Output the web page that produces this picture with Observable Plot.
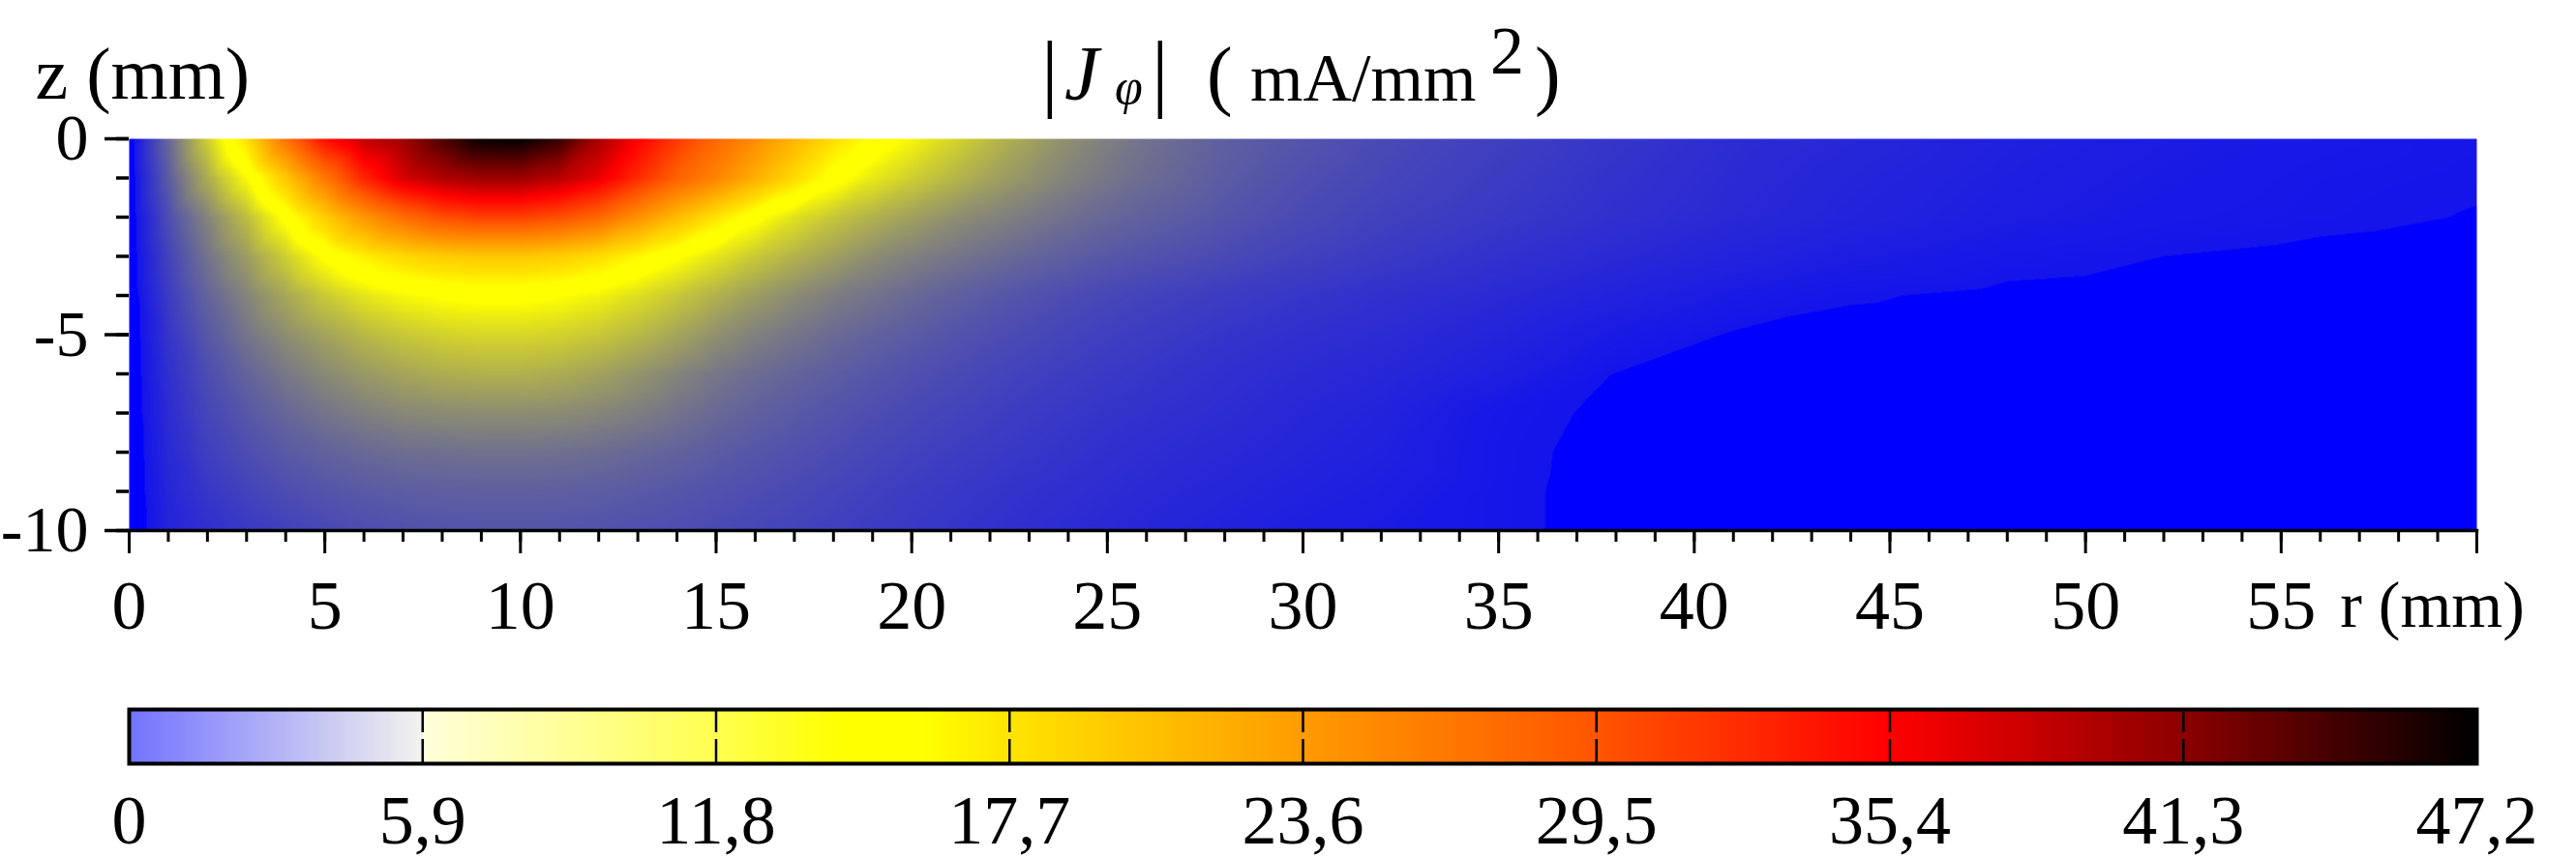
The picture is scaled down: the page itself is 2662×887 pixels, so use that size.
<!DOCTYPE html>
<html>
<head>
<meta charset="utf-8">
<script src="https://cdn.jsdelivr.net/npm/d3@7"></script>
<script src="https://cdn.jsdelivr.net/npm/@observablehq/plot@0.6"></script>
<style>
html, body { margin: 0; padding: 0; background: #fff; overflow: hidden; }
#chart svg { display: block; }
</style>
</head>
<body>
<div id="chart"></div>
<script>
// ---- field samples |J_phi| (mA/mm^2) ----
const rGrid = [0,1,2,3,4,5,6,7,8,9,10,11,12,13,14,15,16,17,18,19,20,21,22,23,24,25,26,28,30,32,35,38,41,44,48,52,56,60];
const zLevels = [0,-1,-2,-3,-4,-5,-6,-7,-8,-9,-10];

const J_z0  = [0,5.5,11.5,18,27,34.5,38.5,40.5,44,46.8,47.1,45,40,35.5,31.5,28,24.8,21.5,18.2,15.8,13.8,12,10.4,9.0,7.8,6.9,6.1, 5.0,4.4,3.8,3.2,2.6,2.1,1.8,1.4,1.15,0.95,0.8];
const J_z1  = [0,4.8,9.5,14,20,26.5,33,37.5,39.5,40.5,40.5,39,36.5,32.5,28.5,25.5,22,18.5,15.2,13,11.5,10.2,9.0,8.0,7.1,6.4,5.8, 4.8,4.1,3.6,3.0,2.45,2.0,1.65,1.3,1.05,0.85,0.75];
const J_z2  = [0,4.0,7.2,10.5,14.8,19.5,24,27.5,30,31,31,30,28,24.5,21,17.8,14.8,12.6,11.0,9.8,8.8,7.9,7.2,6.6,6.0,5.5,5.1, 4.4,3.8,3.3,2.8,2.3,1.9,1.55,1.2,0.95,0.8,0.68];
const J_z3  = [0,3.4,6.2,8.6,11.5,14.6,17,18.6,19.6,20,20,19.5,18.3,16.5,14.6,12.8,11.2,9.9,8.8,7.7,7.0,6.4,5.9,5.4,5.0,4.6,4.3, 3.8,3.3,2.9,2.4,1.95,1.55,1.2,0.88,0.7,0.6,0.52];
const J_z4  = [0,3.0,5.3,7.2,9.2,11.2,12.8,13.9,14.5,14.8,14.8,14.4,13.6,12.4,11.1,9.8,8.6,7.6,6.8,6.2,5.6,5.1,4.7,4.3,3.95,3.65,3.4, 3.0,2.65,2.35,1.95,1.5,1.05,0.75,0.6,0.52,0.45,0.4];
const J_z5  = [0,2.6,4.6,6.3,7.7,9.0,10.2,11.1,11.7,12,12,11.7,11.1,10.2,9.1,7.9,7.0,6.3,5.7,5.2,4.8,4.4,4.05,3.75,3.45,3.2,3.0, 2.6,2.3,2.05,1.6,1.05,0.66,0.55,0.47,0.4,0.35,0.3];
const J_z6  = [0,2.3,4.0,5.3,6.5,7.5,8.4,9.1,9.6,9.8,9.8,9.5,8.9,8.1,7.2,6.4,5.8,5.3,4.9,4.5,4.15,3.85,3.55,3.3,3.05,2.85,2.65, 2.3,2.0,1.8,1.3,0.69,0.55,0.47,0.4,0.34,0.3,0.26];
const J_z7  = [0,2.1,3.6,4.6,5.5,6.3,6.9,7.4,7.6,7.7,7.7,7.6,7.3,6.8,6.2,5.6,5.1,4.7,4.35,4.0,3.7,3.45,3.2,2.95,2.75,2.55,2.4, 2.1,1.8,1.55,0.88,0.6,0.48,0.42,0.36,0.3,0.26,0.22];
const J_z8  = [0,1.9,3.2,4.0,4.7,5.2,5.6,5.9,6.0,6.1,6.1,6.0,5.8,5.5,5.2,4.8,4.5,4.2,3.9,3.6,3.35,3.1,2.9,2.7,2.5,2.3,2.15, 1.9,1.65,1.4,0.83,0.55,0.45,0.38,0.32,0.27,0.23,0.2];
const J_z9  = [0,1.75,2.7,3.4,4.0,4.4,4.7,4.9,5.0,5.05,5.05,5.0,4.9,4.7,4.5,4.25,4.0,3.75,3.5,3.25,3.0,2.8,2.6,2.4,2.25,2.1,1.95, 1.7,1.45,1.25,0.82,0.52,0.42,0.35,0.3,0.25,0.21,0.18];
const J_z10 = [0,1.6,2.3,2.8,3.3,3.7,4.0,4.2,4.35,4.4,4.4,4.4,4.3,4.15,4.0,3.8,3.6,3.4,3.2,3.0,2.8,2.6,2.4,2.2,2.05,1.9,1.75, 1.5,1.25,1.1,0.82,0.52,0.4,0.33,0.28,0.23,0.2,0.17];
const fieldRows = [J_z0,J_z1,J_z2,J_z3,J_z4,J_z5,J_z6,J_z7,J_z8,J_z9,J_z10];

// ---- colour maps ----
const heatStops  = [0, 0.7, 0.701, 14.3, 16.0, 17.7, 23.6, 29.5, 35.4, 41.3, 47.2];
const heatColors = ["#0000ff", "#0000ff", "#1414eb", "#ffff00", "#ffff00", "#ffe400", "#ff9b00", "#ff5500", "#ff0000", "#8c0000", "#000000"];
const legendStops  = [0, 5.9, 5.91, 11.8, 14.3, 16.0, 17.7, 23.6, 29.5, 35.4, 41.3, 47.2];
const legendColors = ["#7373ff", "#f3f3ee", "#ffffdc", "#ffff50", "#ffff00", "#ffff00", "#ffe400", "#ff9b00", "#ff5500", "#ff0000", "#8c0000", "#000000"];

// ---- ticks ----
const xMajor = [0,5,10,15,20,25,30,35,40,45,50,55,60];
const xMajorLabels = ["0","5","10","15","20","25","30","35","40","45","50","55",""];
const yMajor = [0,-5,-10];
const yMajorLabels = ["0","-5","-10"];
const barTicks = [0,5.9,11.8,17.7,23.6,29.5,35.4,41.3,47.2];
const barLabels = ["0","5,9","11,8","17,7","23,6","29,5","35,4","41,3","47,2"];
const barDividers = [5.9,11.8,17.7,23.6,29.5,35.4,41.3];

const cells = [];
zLevels.forEach((z, i) => fieldRows[i].forEach((J, k) => cells.push({r: rGrid[k], z, J})));

const xLabelOf = new Map(xMajor.map((d, i) => [d, xMajorLabels[i]]));
const yLabelOf = new Map(yMajor.map((d, i) => [d, yMajorLabels[i]]));
const barLabelOf = new Map(barTicks.map((d, i) => [d, barLabels[i]]));

const FONT = "'Liberation Serif', 'Times New Roman', serif";

const main = Plot.plot({
  width: 2662, height: 680,
  marginTop: 143, marginLeft: 133, marginRight: 103, marginBottom: 132,
  style: {fontFamily: FONT, background: "white", color: "black"},
  x: {domain: [0, 60], label: null},
  y: {domain: [-10, 0], label: null},
  color: {type: "linear", domain: heatStops, range: heatColors, interpolate: "rgb"},
  marks: [
    Plot.raster(cells, {x: "r", y: "z", fill: "J", interpolate: "barycentric", x1: 0, x2: 60, y1: -10, y2: 0}),
    Plot.axisX({ticks: 60, tickSize: 12, tickFormat: () => "", strokeWidth: 3, label: null}),
    Plot.axisX({ticks: xMajor, tickSize: 24, tickPadding: 26, tickFormat: d => xLabelOf.get(d), fontSize: 72, strokeWidth: 3, label: null}),
    Plot.axisY({ticks: 10, tickSize: 13, tickFormat: () => "", strokeWidth: 3.5, label: null}),
    Plot.axisY({ticks: yMajor, tickSize: 25, tickPadding: 17, tickFormat: d => yLabelOf.get(d), fontSize: 68, strokeWidth: 3.5, label: null}),
    Plot.frame({anchor: "bottom", stroke: "black", strokeWidth: 3.5}),
    Plot.text(["z (mm)"], {frameAnchor: "top-left", dx: -97, dy: -42, textAnchor: "start", lineAnchor: "bottom", fontSize: 76}),
    Plot.text(["r (mm)"], {frameAnchor: "bottom-right", dx: -46, dy: 99, textAnchor: "middle", lineAnchor: "bottom", fontSize: 68})
  ]
});

// title with italic J, subscript phi and superscript 2
const tg = d3.select(main).append("g")
  .attr("font-family", FONT).attr("fill", "black").attr("text-anchor", "start");
function piece(x, y, size, txt, italic) {
  tg.append("text").attr("x", x).attr("y", y).attr("font-size", size)
    .attr("font-style", italic ? "italic" : null).text(txt);
}
piece(1076, 104, 88, "|");
piece(1100, 103, 80, "J", true);
piece(1152, 107, 52, "\u03C6", true);
piece(1190, 104, 88, "|");
piece(1247, 104, 80, "(");
piece(1292, 104, 70, "mA/mm");
piece(1540, 76, 70, "2");
piece(1586, 104, 80, ")");

const bar = Plot.plot({
  width: 2662, height: 207,
  marginTop: 53, marginBottom: 98, marginLeft: 133, marginRight: 103,
  style: {fontFamily: FONT, background: "white", color: "black"},
  x: {domain: [0, 47.2], label: null},
  y: {domain: [0, 1], axis: null},
  color: {type: "linear", domain: legendStops, range: legendColors, interpolate: "rgb"},
  marks: [
    Plot.raster({fill: (x, y) => x, x1: 0, x2: 47.2, y1: 0, y2: 1}),
    Plot.ruleX(barDividers, {stroke: "black", strokeWidth: 2.5, strokeDasharray: "24 7 40"}),
    Plot.frame({stroke: "black", strokeWidth: 4}),
    Plot.axisX({ticks: barTicks, tickSize: 0, tickPadding: 31, tickFormat: d => barLabelOf.get(d), fontSize: 72, label: null})
  ]
});

document.getElementById("chart").append(main, bar);
</script>
</body>
</html>
